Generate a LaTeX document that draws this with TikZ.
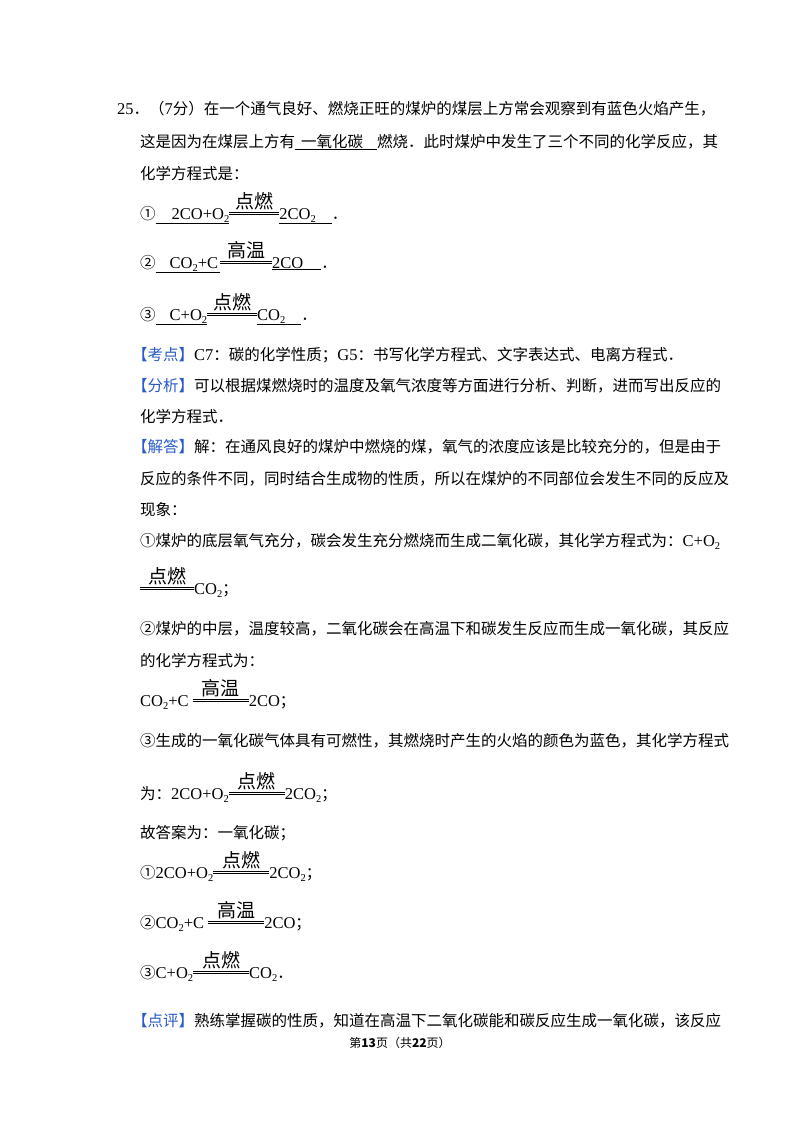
\documentclass[tikz,border=0pt]{standalone}
\usepackage{fontspec}
\setmainfont{Noto Sans CJK SC}
\newfontfamily\tmf{Liberation Serif}
\newcommand\tm{\tmf\fontsize{16.5}{17}\selectfont}
\usepackage{xcolor}
\definecolor{kb}{RGB}{40,90,200}
\newcommand\sub[1]{\raisebox{-3pt}{\fontsize{10.5}{10}\selectfont #1}}
\newcommand\cnd[2]{\raisebox{4pt}{\vbox{\hbox to #2{\hss{\fontsize{19}{19}\selectfont #1}\hss}\kern2pt\hrule height .7pt\kern1.6pt\hrule height .7pt}}}
\newcommand\ul[1]{\underline{\hbox{#1}}}
\newcommand\kb[1]{{\color{kb}【#1】}}
\begin{document}
\begin{tikzpicture}[x=1pt,y=-1pt,every node/.style={anchor=base west,inner sep=0pt,font=\fontsize{15.5}{16}\selectfont}]
\useasboundingbox[fill=white] (0,0) rectangle (800,1132);
\node (l1) at (117,114) {{\tm 25}．（{\tm 7}分）在一个通气良好、燃烧正旺的煤炉的煤层上方常会观察到有蓝色火焰产生，};
\node (l2) at (140,147) {这是因为在煤层上方有\ul{\hspace{6pt}一氧化碳\hspace{14pt}}燃烧．此时煤炉中发生了三个不同的化学反应，其};
\node (l3) at (140,179) {化学方程式是：};
\node (e1) at (140,219) {①\ul{\tm\hspace{16pt}2CO+O\sub{2}}\cnd{点燃}{50pt}\ul{\tm 2CO\sub{2}\hspace{16pt}}．};
\node (e2) at (140,268) {②\ul{\tm\hspace{14pt}CO\sub{2}+C\hspace{2pt}}\cnd{高温}{52pt}\ul{\tm 2CO\hspace{18pt}}．};
\node (e3) at (140,320) {③\ul{\tm\hspace{14pt}C+O\sub{2}}\cnd{点燃}{50pt}\ul{\tm CO\sub{2}\hspace{16pt}}．};
\node (k1) at (132,360) {\kb{考点}{\tm C7}：碳的化学性质；{\tm G5}：书写化学方程式、文字表达式、电离方程式．};
\node (f1) at (132,391) {\kb{分析}可以根据煤燃烧时的温度及氧气浓度等方面进行分析、判断，进而写出反应的};
\node (f2) at (140,422) {化学方程式．};
\node (j1) at (132,452) {\kb{解答}解：在通风良好的煤炉中燃烧的煤，氧气的浓度应该是比较充分的，但是由于};
\node (j2) at (140,484) {反应的条件不同，同时结合生成物的性质，所以在煤炉的不同部位会发生不同的反应及};
\node (j3) at (140,515) {现象：};
\node (j4) at (140,546) {①煤炉的底层氧气充分，碳会发生充分燃烧而生成二氧化碳，其化学方程式为：{\tm C+O\sub{2}}};
\node (j5) at (140,594) {\cnd{点燃}{54pt}{\tm CO\sub{2}}；};
\node (j6) at (140,634) {②煤炉的中层，温度较高，二氧化碳会在高温下和碳发生反应而生成一氧化碳，其反应};
\node (j7) at (140,666) {的化学方程式为：};
\node (j8) at (140,706) {{\tm CO\sub{2}+C }\cnd{高温}{56pt}{\tm 2CO}；};
\node (j9) at (140,746) {③生成的一氧化碳气体具有可燃性，其燃烧时产生的火焰的颜色为蓝色，其化学方程式};
\node (j10) at (140,799) {为：{\tm 2CO+O\sub{2}}\cnd{点燃}{56pt}{\tm 2CO\sub{2}}；};
\node (g1) at (140,838) {故答案为：一氧化碳；};
\node (g2) at (140,878) {①{\tm 2CO+O\sub{2}}\cnd{点燃}{56pt}{\tm 2CO\sub{2}}；};
\node (g3) at (140,928) {②{\tm CO\sub{2}+C }\cnd{高温}{56pt}{\tm 2CO}；};
\node (g4) at (140,978) {③{\tm C+O\sub{2}}\cnd{点燃}{56pt}{\tm CO\sub{2}}．};
\node (p1) at (132,1026) {\kb{点评}熟练掌握碳的性质，知道在高温下二氧化碳能和碳反应生成一氧化碳，该反应};
\node[anchor=base,font=\fontsize{12}{12}\selectfont] (pg) at (400,1047) {第\textbf{13}页（共\textbf{22}页）};
\end{tikzpicture}
\end{document}
